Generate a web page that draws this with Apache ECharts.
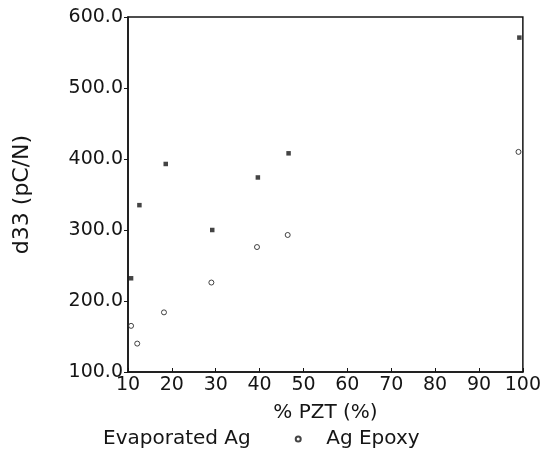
<!DOCTYPE html>
<html>
<head>
<meta charset="utf-8">
<script src="https://cdn.jsdelivr.net/npm/echarts@6/dist/echarts.min.js"></script>
<style>
html,body{margin:0;padding:0;background:#fff;}
#chart{width:544px;height:457px;}
</style>
</head>
<body>
<div id="chart"></div>
<script>
// Data
const pztPercent = [10.7, 12.6, 18.6, 29.2, 39.6, 46.6, 99.2];
const evaporatedAg = [232, 335, 393, 300, 374, 408, 571];
const pztPercentEpoxy = [10.7, 12.1, 18.2, 29.0, 39.4, 46.4, 99.0];
const agEpoxy = [165, 140, 184, 226, 276, 293, 410];
const xTicks = [10, 20, 30, 40, 50, 60, 70, 80, 90, 100];
const yTicks = [100, 200, 300, 400, 500, 600];

const font = 'DejaVu Sans';
const ink = '#151515';

const chart = echarts.init(document.getElementById('chart'), null, {renderer: 'canvas'});
chart.setOption({
  animation: false,
  backgroundColor: '#fff',
  grid: {left: 128, right: 18, top: 17, bottom: 85, show: true, borderColor: ink, borderWidth: 1.5, backgroundColor: 'transparent'},
  legend: {
    left: 87, top: 424,
    itemWidth: 6, itemHeight: 5, itemGap: 44,
    textStyle: {fontFamily: font, fontSize: 20, color: ink},
    data: [
      {name: 'Evaporated Ag', icon: 'none'},
      {name: 'Ag Epoxy', icon: 'circle', textStyle: {padding: [0, 0, 0, 20]}}
    ]
  },
  xAxis: {
    type: 'value',
    min: xTicks[0], max: xTicks[xTicks.length - 1], interval: 10,
    name: '% PZT (%)', nameLocation: 'middle', nameGap: 31,
    nameTextStyle: {fontFamily: font, fontSize: 20, color: ink},
    axisLine: {show: true, lineStyle: {color: ink, width: 1.5}},
    axisTick: {show: true, inside: true, length: 4, lineStyle: {color: ink}},
    axisLabel: {fontFamily: font, fontSize: 19, color: ink, margin: 4},
    splitLine: {show: false}
  },
  yAxis: {
    type: 'value',
    min: yTicks[0], max: yTicks[yTicks.length - 1], interval: 100,
    name: 'd33 (pC/N)', nameLocation: 'middle', nameGap: 95,
    nameTextStyle: {fontFamily: font, fontSize: 22, color: ink},
    axisLine: {show: true, lineStyle: {color: ink, width: 1.5}},
    axisTick: {show: true, inside: false, length: 4, lineStyle: {color: ink}},
    axisLabel: {fontFamily: font, fontSize: 19, color: ink, margin: 5, formatter: v => v.toFixed(1)},
    splitLine: {show: false}
  },
  series: [
    {
      name: 'Evaporated Ag', type: 'scatter', symbol: 'rect', symbolSize: 4.5,
      itemStyle: {color: ink},
      data: pztPercent.map((x, i) => [x, evaporatedAg[i]])
    },
    {
      name: 'Ag Epoxy', type: 'scatter', symbol: 'circle', symbolSize: 5,
      itemStyle: {color: '#fff', borderColor: ink, borderWidth: 1},
      data: pztPercentEpoxy.map((x, i) => [x, agEpoxy[i]])
    }
  ]
});
</script>
</body>
</html>
